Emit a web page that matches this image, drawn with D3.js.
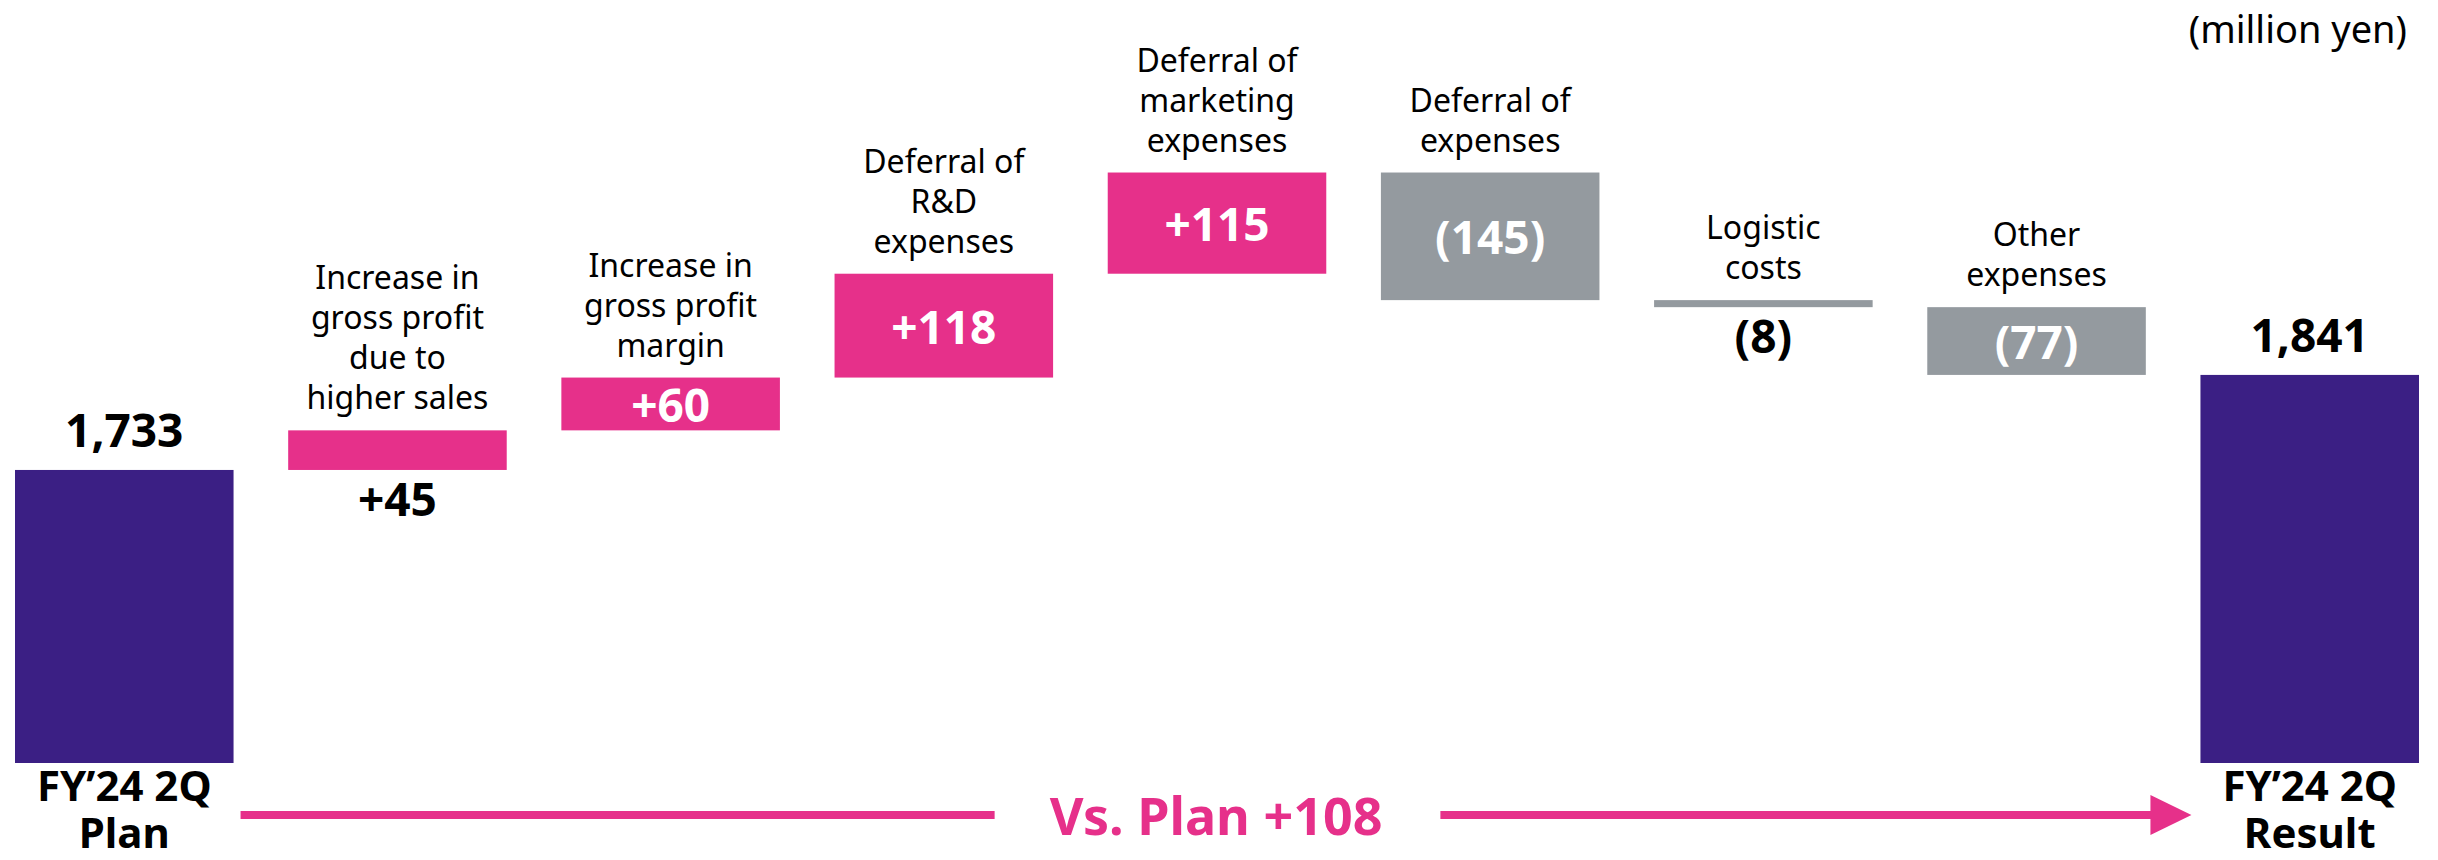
<!DOCTYPE html>
<html>
<head>
<meta charset="utf-8">
<script src="https://cdn.jsdelivr.net/npm/d3@7"></script>
<style>
  body { margin: 0; background: #fff; }
  svg { display: block; font-family: "Noto Sans", "Open Sans", sans-serif; }
</style>
</head>
<body>
<div id="container"></div>
<script>
var width = 2438;
var height = 860;

// waterfall steps, (million yen)
var categories = ["plan", "sales", "margin", "rnd", "marketing", "expenses", "logistic", "other", "result"];
var labels = [
  ["FY’24 2Q", "Plan"],
  ["Increase in", "gross profit", "due to", "higher sales"],
  ["Increase in", "gross profit", "margin"],
  ["Deferral of", "R&D", "expenses"],
  ["Deferral of", "marketing", "expenses"],
  ["Deferral of", "expenses"],
  ["Logistic", "costs"],
  ["Other", "expenses"],
  ["FY’24 2Q", "Result"]
];
var values = [1733, 45, 60, 118, 115, -145, -8, -77, 1841];
var isTotal = [true, false, false, false, false, false, false, false, true];
var unitLabel = "(million yen)";
var diffLabel = "Vs. Plan +108";

var purple = "#3b1f84";
var pink = "#e6308a";
var grey = "#949a9f";

// build the running totals
var run = 0;
var data = [];
for (var i = 0; i < categories.length; i++) {
  var d = { key: categories[i], label: labels[i], value: values[i], total: isTotal[i] };
  if (d.total) {
    d.y0 = 1400; // axis is broken, totals start from the bottom of the scale
    d.y1 = d.value;
    run = d.value;
  } else {
    d.y0 = run;
    d.y1 = run + d.value;
    run = d.y1;
  }
  data.push(d);
}

function fmt(d) {
  if (d.total) return d3.format(",")(d.value);
  if (d.value > 0) return "+" + d.value;
  return "(" + (-d.value) + ")";
}

var x = d3.scaleBand().domain(categories).range([15, 2419]).paddingInner(0.2).paddingOuter(0);
var y = d3.scaleLinear().domain([1400, 2100]).range([763, 147]);

var svg = d3.select("#container").append("svg")
  .attr("width", width)
  .attr("height", height);

var bars = svg.append("g").attr("id", "bars");

bars.selectAll("rect")
  .data(data)
  .enter()
  .append("rect")
  .attr("x", function(d) { return x(d.key); })
  .attr("y", function(d) { return y(Math.max(d.y0, d.y1)); })
  .attr("width", x.bandwidth())
  .attr("height", function(d) { return Math.abs(y(d.y0) - y(d.y1)); })
  .attr("fill", function(d) {
    if (d.total) return purple;
    return d.value > 0 ? pink : grey;
  });

// value labels
var vals = svg.append("g").attr("id", "values")
  .attr("font-weight", "bold")
  .attr("font-size", 46)
  .attr("text-anchor", "middle");

vals.selectAll("text")
  .data(data)
  .enter()
  .append("text")
  .attr("x", function(d) { return x(d.key) + x.bandwidth() / 2; })
  .attr("y", function(d) {
    var top = y(Math.max(d.y0, d.y1));
    var bot = y(Math.min(d.y0, d.y1));
    if (d.total) return top - 23;
    if (bot - top > 45) return (top + bot) / 2 + 18;
    return bot + 46;
  })
  .attr("fill", function(d) {
    var h = Math.abs(y(d.y0) - y(d.y1));
    return (!d.total && h > 45) ? "#fff" : "#000";
  })
  .text(fmt);

// category descriptions above the step bars
var cats = svg.append("g").attr("id", "cats").attr("text-anchor", "middle");

cats.selectAll("text")
  .data(data.filter(function(d) { return !d.total; }))
  .enter()
  .append("text")
  .attr("font-size", 32)
  .attr("fill", "#000")
  .attr("transform", function(d) {
    var top = y(Math.max(d.y0, d.y1));
    var n = d.label.length;
    return "translate(" + (x(d.key) + x.bandwidth() / 2) + "," + (top - 21 - (n - 1) * 40) + ")";
  })
  .selectAll("tspan")
  .data(function(d) { return d.label; })
  .enter()
  .append("tspan")
  .attr("x", 0)
  .attr("dy", function(d, i) { return i === 0 ? 0 : 40; })
  .text(function(d) { return d; });

// totals: labels under the bars
cats.selectAll("text.total")
  .data(data.filter(function(d) { return d.total; }))
  .enter()
  .append("text")
  .attr("class", "total")
  .attr("font-size", 42)
  .attr("font-weight", "bold")
  .attr("fill", "#000")
  .attr("transform", function(d) {
    return "translate(" + (x(d.key) + x.bandwidth() / 2) + "," + (y(d.y0) + 38) + ")";
  })
  .selectAll("tspan")
  .data(function(d) { return d.label; })
  .enter()
  .append("tspan")
  .attr("x", 0)
  .attr("dy", function(d, i) { return i === 0 ? 0 : 47; })
  .text(function(d) { return d; });

// unit
svg.append("text")
  .attr("x", 2407)
  .attr("y", 43)
  .attr("text-anchor", "end")
  .attr("font-size", 38)
  .attr("fill", "#000")
  .text(unitLabel);

// difference arrow along the bottom
var ay = 815;
var ax0 = x(categories[0]) + x.bandwidth() + 7;
var ax1 = x(categories[categories.length - 1]) - 9;
var mid = (ax0 + ax1) / 2;

var arrow = svg.append("g").attr("id", "arrow");
var diff = arrow.append("text")
  .attr("x", mid)
  .attr("y", ay + 20)
  .attr("text-anchor", "middle")
  .attr("font-size", 52)
  .attr("font-weight", "bold")
  .attr("fill", pink)
  .text(diffLabel);

var bb = diff.node().getBBox();

arrow.append("line")
  .attr("x1", ax0).attr("x2", bb.x - 55)
  .attr("y1", ay).attr("y2", ay)
  .attr("stroke", pink)
  .attr("stroke-width", 8);

arrow.append("line")
  .attr("x1", bb.x + bb.width + 58).attr("x2", ax1 - 40)
  .attr("y1", ay).attr("y2", ay)
  .attr("stroke", pink)
  .attr("stroke-width", 8);

arrow.append("path")
  .attr("d", "M" + (ax1 - 41) + "," + (ay - 20) + "L" + ax1 + "," + ay + "L" + (ax1 - 41) + "," + (ay + 20) + "Z")
  .attr("fill", pink);
</script>
</body>
</html>
